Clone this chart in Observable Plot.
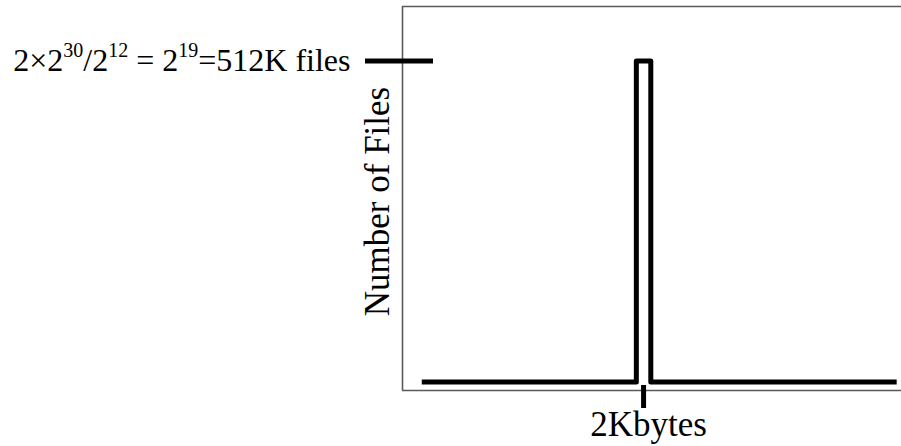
<!DOCTYPE html>
<html>
<head>
<meta charset="utf-8">
<script src="https://cdn.jsdelivr.net/npm/d3@7"></script>
<script src="https://cdn.jsdelivr.net/npm/@observablehq/plot@0.6"></script>
<style>
  html, body { margin: 0; padding: 0; background: #fff; }
  svg { display: block; }
</style>
</head>
<body>
<div id="chart"></div>
<script>
// ---- data ----
const fileSizeKB = [0.16, 1.94, 1.94, 2.06, 2.06, 4.1];   // x: file size (KB)
const numFilesK  = [0,    0,    512,  512,  0,    0];     // y: number of files (K)
const xTicks = [2];
const xTickLabels = ["2Kbytes"];
const yTicks = [512];
// label parts: [text, isSuperscript]
const yTickLabelParts = [["2×2", false], ["30", true], ["/2", false], ["12", true],
                         [" = 2", false], ["19", true], ["=512K files", false]];
const yAxisTitle = ["Number of Files"];

// ---- layout ----
const W = 901, H = 446;
const mL = 402, mR = 0, mT = 6, mB = 56;
const xDomain = [0, 4.14];
const yDomain = [-13.6, 598.9];
const pxX = (xDomain[1] - xDomain[0]) / (W - mL - mR);   // data units per px
const pxY = (yDomain[1] - yDomain[0]) / (H - mT - mB);

const lineData = fileSizeKB.map((x, i) => ({x, y: numFilesK[i]}));
const yLabelText = yTickLabelParts.map(d => d[0]).join("");
const serif = "'Liberation Serif', 'Times New Roman', Times, serif";

const plot = Plot.plot({
  width: W, height: H,
  marginLeft: mL, marginRight: mR, marginTop: mT, marginBottom: mB,
  x: {domain: xDomain, axis: null},
  y: {domain: yDomain, axis: null},
  style: {fontFamily: serif, background: "#fff", color: "#000"},
  marks: [
    // frame: left, top, bottom
    Plot.ruleX([xDomain[0]], {y1: yDomain[0], y2: yDomain[1], stroke: "#5a5a5a", strokeWidth: 1.6}),
    Plot.ruleY([yDomain[0], yDomain[1]], {x1: xDomain[0], x2: xDomain[1], stroke: "#5a5a5a", strokeWidth: 1.6}),
    // series
    Plot.line(lineData, {x: "x", y: "y", stroke: "#000", strokeWidth: 5,
                         strokeLinejoin: "round", strokeLinecap: "butt"}),
    // y tick and label
    Plot.ruleY(yTicks, {x1: xDomain[0] - 37 * pxX, x2: xDomain[0] + 31 * pxX, stroke: "#000", strokeWidth: 5}),
    Plot.text(yTicks, {y: d => d, frameAnchor: "left", dx: -52, textAnchor: "end",
                       text: () => yLabelText, fontSize: 32, fill: "#000", lineAnchor: "middle"}),
    // x tick and label
    Plot.ruleX(xTicks, {y1: yDomain[0] + 5 * pxY, y2: yDomain[0] - 18 * pxY, stroke: "#000", strokeWidth: 5}),
    Plot.text(xTicks, {x: d => d, frameAnchor: "bottom", dy: 34, dx: 5, textAnchor: "middle",
                       lineAnchor: "middle", text: (d, i) => xTickLabels[i], fontSize: 35, fill: "#000"}),
    // y axis title
    Plot.text(yAxisTitle, {frameAnchor: "left", dx: -25, dy: 3, rotate: -90, textAnchor: "middle",
                           lineAnchor: "middle", text: d => d, fontSize: 35, fill: "#000"})
  ]
});

// turn superscript parts of the y tick label into tspans
d3.select(plot).selectAll("text").each(function() {
  if (this.textContent !== yLabelText) return;
  const t = d3.select(this);
  t.text(null);
  let prevSup = false;
  yTickLabelParts.forEach(([s, sup]) => {
    const ts = t.append("tspan").text(s);
    if (sup && !prevSup) ts.attr("dy", -14).attr("font-size", 20);
    else if (!sup && prevSup) ts.attr("dy", 14);
    else if (sup) ts.attr("font-size", 20);
    prevSup = sup;
  });
});

document.getElementById("chart").appendChild(plot);
</script>
</body>
</html>
